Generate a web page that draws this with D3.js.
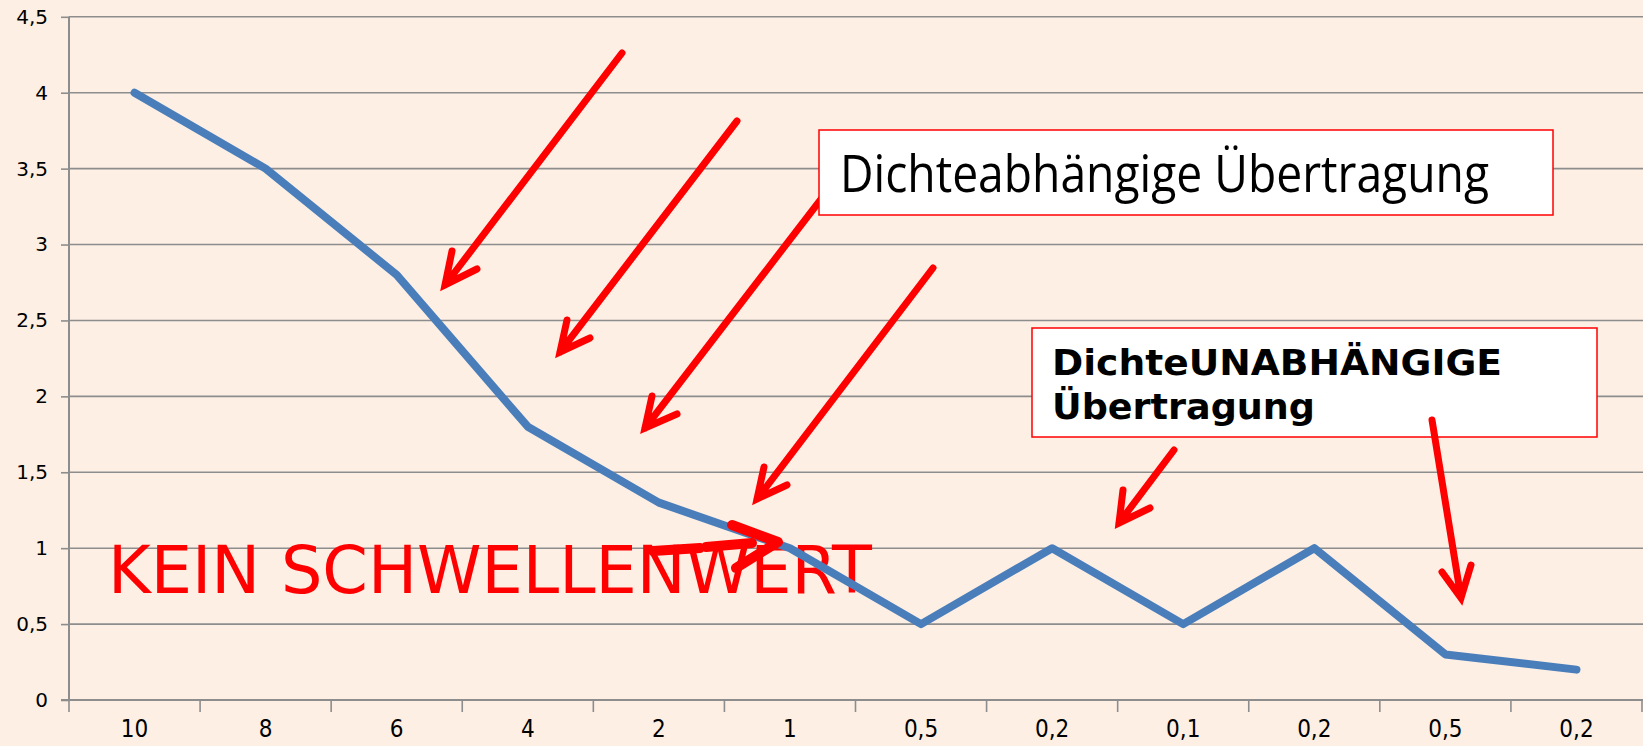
<!DOCTYPE html>
<html>
<head>
<meta charset="utf-8">
<script src="https://cdn.jsdelivr.net/npm/d3@7"></script>
<style>
  html, body { margin: 0; padding: 0; background: #fdefe4; }
  svg { display: block; }
</style>
</head>
<body>
<div id="plot"></div>
<script>
// chart data
const categories = ["10", "8", "6", "4", "2", "1", "0,5", "0,2", "0,1", "0,2", "0,5", "0,2"];
const values = [4, 3.5, 2.8, 1.8, 1.3, 1.0, 0.5, 1.0, 0.5, 1.0, 0.3, 0.2];
const yTicks = [0, 0.5, 1, 1.5, 2, 2.5, 3, 3.5, 4, 4.5];

const width = 1643;
const height = 746;
const plotLeft = 69, plotRight = 1642, plotTop = 16.8, plotBottom = 700;

const de = d3.formatLocale({ decimal: ",", thousands: ".", grouping: [3], currency: ["", " €"] });
const fmt = de.format("~g");

const svg = d3.select("div#plot")
  .append("svg")
  .attr("width", width)
  .attr("height", height);

svg.append("rect")
  .attr("width", width)
  .attr("height", height)
  .attr("fill", "#fdefe4");

const x = d3.scaleBand()
  .domain(d3.range(categories.length))
  .range([plotLeft, plotRight]);

const y = d3.scaleLinear()
  .domain([0, 4.5])
  .range([plotBottom, plotTop]);

// gridlines
svg.append("g")
  .selectAll("line")
  .data(yTicks.slice(1))
  .enter().append("line")
  .attr("x1", plotLeft)
  .attr("x2", width)
  .attr("y1", d => y(d))
  .attr("y2", d => y(d))
  .attr("stroke", "#8d8d8d")
  .attr("stroke-width", 1.6);

// y axis
const yAxis = svg.append("g")
  .attr("transform", `translate(${plotLeft},0)`)
  .call(d3.axisLeft(y).tickValues(yTicks).tickSize(8).tickPadding(13).tickFormat(fmt));
yAxis.select(".domain").remove();
yAxis.selectAll(".tick line").attr("stroke", "#8d8d8d").attr("stroke-width", 1.6);
yAxis.selectAll("text")
  .attr("fill", "#000")
  .style("font-family", "'DejaVu Sans', Verdana, sans-serif")
  .style("font-size", "20px");
svg.append("line")
  .attr("x1", plotLeft).attr("x2", plotLeft)
  .attr("y1", plotTop).attr("y2", plotBottom + 1)
  .attr("stroke", "#8d8d8d").attr("stroke-width", 2);

// x axis
const xAxis = svg.append("g")
  .attr("transform", `translate(0,${plotBottom})`)
  .call(d3.axisBottom(x).tickSize(0).tickPadding(20).tickFormat(i => categories[i]));
xAxis.select(".domain").remove();
xAxis.selectAll("text")
  .attr("fill", "#000")
  .style("font-family", "'Liberation Sans Narrow', 'DejaVu Sans Condensed', sans-serif")
  .style("font-size", "24px");
svg.append("line")
  .attr("x1", plotLeft - 8).attr("x2", width)
  .attr("y1", plotBottom).attr("y2", plotBottom)
  .attr("stroke", "#8d8d8d").attr("stroke-width", 2);
svg.append("g")
  .selectAll("line")
  .data(d3.range(categories.length + 1))
  .enter().append("line")
  .attr("x1", i => plotLeft + i * x.bandwidth())
  .attr("x2", i => plotLeft + i * x.bandwidth())
  .attr("y1", plotBottom)
  .attr("y2", plotBottom + 12)
  .attr("stroke", "#8d8d8d")
  .attr("stroke-width", 1.6);

// big red label
svg.append("text")
  .attr("x", 108)
  .attr("y", 593)
  .attr("textLength", 764)
  .attr("lengthAdjust", "spacingAndGlyphs")
  .attr("fill", "#ff0000")
  .style("font-family", "'DejaVu Sans', Verdana, sans-serif")
  .style("font-size", "66px")
  .text("KEIN SCHWELLENWERT");

// data line
const line = d3.line()
  .x((d, i) => x(i) + x.bandwidth() / 2)
  .y(d => y(d));

svg.append("path")
  .datum(values)
  .attr("d", line)
  .attr("fill", "none")
  .attr("stroke", "#4a7ebb")
  .attr("stroke-width", 8)
  .attr("stroke-linejoin", "round")
  .attr("stroke-linecap", "round");

// annotation arrows: [shaft start, tip, wing a, wing b]
const arrows = [
  [[622, 53], [445, 285], [452, 251], [477, 269]],
  [[737, 121], [560, 352], [567, 320], [590, 338]],
  [[835, 181], [645, 428], [652, 396], [677, 414]],
  [[933, 268], [757, 499], [764, 467], [787, 485]],
  [[1174, 450], [1119, 523], [1123, 490], [1150, 508]]
];

function drawArrow(a, sw) {
  svg.append("path")
    .attr("d", `M${a[0]}L${a[1]}M${a[2]}L${a[1]}L${a[3]}`)
    .attr("fill", "none")
    .attr("stroke", "#ff0000")
    .attr("stroke-width", sw)
    .attr("stroke-linecap", "round")
    .attr("stroke-linejoin", "miter");
}
arrows.forEach(a => drawArrow(a, 7));

// the scribbled arrow near the label
const scribble = [
  "M653,551L700,548",
  "M706,547L752,543",
  "M732,525L778,542L736,568"
];
scribble.forEach(d => {
  svg.append("path")
    .attr("d", d)
    .attr("fill", "none")
    .attr("stroke", "#ff0000")
    .attr("stroke-width", 10)
    .attr("stroke-linecap", "round")
    .attr("stroke-linejoin", "round");
});

// text boxes
svg.append("rect")
  .attr("x", 819).attr("y", 130)
  .attr("width", 734).attr("height", 85)
  .attr("fill", "#fff")
  .attr("stroke", "#ff0000")
  .attr("stroke-width", 1.5);
svg.append("text")
  .attr("x", 840).attr("y", 192)
  .attr("textLength", 649)
  .attr("lengthAdjust", "spacingAndGlyphs")
  .attr("fill", "#000")
  .style("font-family", "'Open Sans', sans-serif")
  .style("font-size", "51px")
  .text("Dichteabhängige Übertragung");

svg.append("rect")
  .attr("x", 1032).attr("y", 328)
  .attr("width", 565).attr("height", 109)
  .attr("fill", "#fff")
  .attr("stroke", "#ff0000")
  .attr("stroke-width", 1.5);
const t2 = svg.append("g")
  .style("font-family", "'DejaVu Sans', Verdana, sans-serif")
  .style("font-size", "36px")
  .style("font-weight", "bold")
  .attr("fill", "#000");
t2.append("text")
  .attr("x", 1052).attr("y", 375)
  .attr("textLength", 450)
  .attr("lengthAdjust", "spacingAndGlyphs")
  .text("DichteUNABHÄNGIGE");
t2.append("text")
  .attr("x", 1052).attr("y", 419)
  .attr("textLength", 263)
  .attr("lengthAdjust", "spacingAndGlyphs")
  .text("Übertragung");

// arrow on top of the second box
drawArrow([[1432, 420], [1461, 598], [1442, 572], [1471, 565]], 7);
</script>
</body>
</html>
